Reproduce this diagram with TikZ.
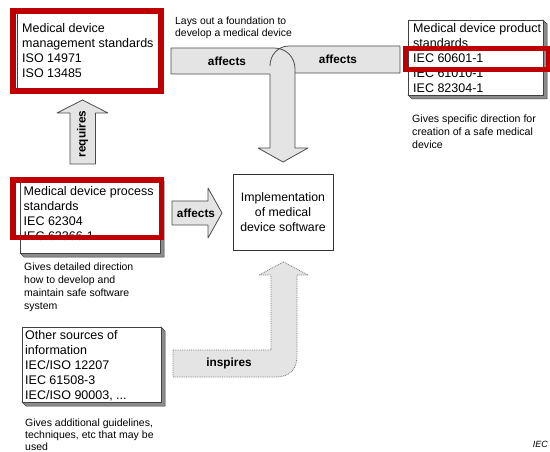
\documentclass[tikz,border=0pt]{standalone}
\usepackage{fontspec}
\setmainfont{Liberation Sans}
\definecolor{markred}{RGB}{192,0,0}
\definecolor{arrowgray}{RGB}{228,228,228}
\tikzset{
  boxline/.style={draw=black!75, fill=white, line width=0.9pt},
  boxshade/.style={fill=black!45, draw=black!75, line width=0.5pt},
  boxtext/.style={anchor=north west, inner sep=0pt, align=left, font=\fontsize{12.5}{15}\selectfont},
  note/.style={anchor=north west, inner sep=0pt, align=left, font=\fontsize{10.5}{12.8}\selectfont},
  blockarrow/.style={fill=arrowgray, draw=black!70, line width=0.8pt, line join=round},
  arrowlabel/.style={inner sep=0pt, font=\bfseries\fontsize{11.8}{14}\selectfont},
  redframe/.style={draw=markred, line width=5.5pt}
}
\begin{document}
\begin{tikzpicture}[x=1pt, y=-1pt]
\useasboundingbox[fill=white] (0,0) rectangle (550,452);
% the standards boxes, with their bevel
\foreach \xa/\ya/\xb/\yb in {17/13/158/88, 408/20/543/95, 20/177/160/253, 22/327/161/402}{
  \filldraw[boxshade] (\xb,\ya) -- ++(4,4) -- (\xb+4,\yb+4) -- (\xa+4,\yb+4) -- (\xa,\yb) -- cycle;
  \draw[boxline] (\xa,\ya) rectangle (\xb,\yb);
}
\node[boxtext] (mgmt) at (22,23.4) {Medical device\\management standards\\ISO 14971\\ISO 13485};
\node[boxtext] (product) at (413,23) {Medical device product\\standards\\IEC 60601-1\\IEC 61010-1\\IEC 82304-1};
\node[boxtext] (process) at (23.5,186.7) {Medical device process\\standards\\IEC 62304\\IEC 62366-1};
\node[boxtext] (other) at (25,330.7) {Other sources of\\information\\IEC/ISO 12207\\IEC 61508-3\\IEC/ISO 90003, ...};

% what each group gives
\node[note, font=\fontsize{10.4}{12}\selectfont] (foundation) at (175,17) {Lays out a foundation to\\develop a medical device};
\node[note, font=\fontsize{10.6}{13}\selectfont] (productnote) at (412,115) {Gives specific direction for\\creation of a safe medical\\device};
\node[note] (processnote) at (24,263) {Gives detailed direction\\how to develop and\\maintain safe software\\system};
\node[note, font=\fontsize{10.5}{12.2}\selectfont] (othernote) at (25,418.5) {Gives additional guidelines,\\techniques, etc that may be\\used};

% the software in the middle
\node[draw=black!80, line width=0.9pt, minimum width=100pt, minimum height=76pt, align=center,
      font=\fontsize{12.3}{15}\selectfont] (impl) at (283,212) {Implementation\\of medical\\device software};

% the two bars that meet and go down
\fill[arrowgray] (295,73) -- (400,73) -- (400,46) -- (289,46) .. controls (278,46) and (270,55) .. (270,66) -- (270,74) -- cycle;
\filldraw[blockarrow] (171,48) -- (274,48) .. controls (286,48) and (295,57) .. (295,69) -- (295,148) -- (308,148)
  -- (283,162) -- (258,148) -- (270,148) -- (270,74) -- (171,74) -- cycle;
\draw[blockarrow, fill=none] (295,73) -- (400,73) -- (400,46) -- (289,46) .. controls (278,46) and (270,55) .. (270,66);
\node[arrowlabel] (affectsl) at (227,61) {affects};
\node[arrowlabel] (affectsr) at (338,59) {affects};

% requires
\filldraw[blockarrow] (70,164) -- (70,113) -- (57,113) -- (82.5,100) -- (108,113) -- (95.5,113) -- (95.5,164) -- cycle;
\node[arrowlabel, rotate=90] (requires) at (82.5,134) {requires};

% affects, into the software
\filldraw[blockarrow] (172,201) -- (208,201) -- (208,188) -- (222,213) -- (208,238) -- (208,225) -- (172,225) -- cycle;
\node[arrowlabel] (affectsm) at (196,213) {affects};

% inspires
\filldraw[blockarrow, draw=black!55, densely dotted] (173,350) -- (271,350) -- (271,275) -- (259,275) -- (283.5,262) -- (308,275)
  -- (297,275) -- (297,355) .. controls (297,370) and (290,377) .. (275,377) -- (173,377) -- cycle;
\node[arrowlabel] (inspires) at (229,363) {inspires};

% the red marks
\draw[redframe] (13,11) rectangle (161,91);
\draw[redframe] (405.5,48.5) rectangle (549,69.5);
\draw[redframe] (13,180) rectangle (161.5,237.5);

\node[inner sep=0pt, anchor=east, font=\itshape\fontsize{9}{10}\selectfont] (iec) at (548,444) {IEC};
\end{tikzpicture}
\end{document}
